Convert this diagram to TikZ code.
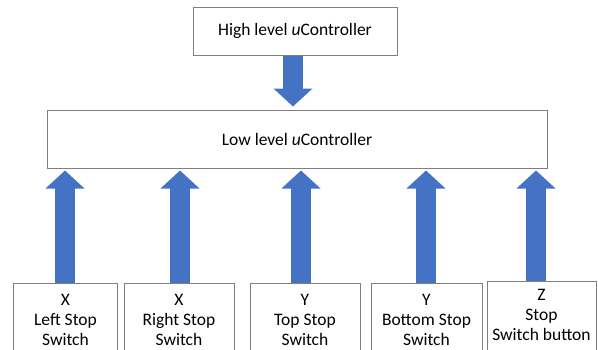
\documentclass[tikz,border=0pt]{standalone}
\usepackage{fontspec}
\setmainfont{Carlito}
\usetikzlibrary{arrows.meta}
\definecolor{arrowblue}{HTML}{4472C4}
\definecolor{boxline}{HTML}{7F7F7F}
\tikzset{
  box/.style={draw=boxline, line width=1pt, fill=white, inner sep=0pt, align=center,
    font=\fontsize{17.5}{20}\selectfont},
  label/.style={font=\fontsize{17.5}{20}\selectfont, align=center},
  blockarrow/.style={draw=arrowblue, line width=20pt,
    -{Triangle[length=18pt, width=38pt, fill=arrowblue]}},
}
\begin{document}
\begin{tikzpicture}[x=1pt,y=-1pt]
  \useasboundingbox (0,0) rectangle (598,349);
  \clip (0,0) rectangle (598,349);

  % controllers
  \node[box, minimum width=204pt, minimum height=48pt] (high) at (295,31) {High level \emph{u}Controller};
  \node[box, minimum width=500pt, minimum height=58pt] (low) at (297,139) {Low level \emph{u}Controller};

  % stop switches (bottom edges run past the page)
  \node[box, minimum width=104pt, minimum height=90pt, anchor=north] (sx1) at (65.5,283) {};
  \node[box, minimum width=110pt, minimum height=90pt, anchor=north] (sx2) at (179,283) {};
  \node[box, minimum width=110pt, minimum height=90pt, anchor=north] (sy1) at (305,283) {};
  \node[box, minimum width=111pt, minimum height=90pt, anchor=north] (sy2) at (426.5,283) {};
  \node[box, minimum width=109pt, minimum height=90pt, anchor=north] (sz) at (541.5,281) {};

  \node[label] (tx1) at (65.5,320) {X\\Left Stop\\Switch};
  \node[label] (tx2) at (179,320) {X\\Right Stop\\Switch};
  \node[label] (ty1) at (305,320) {Y\\Top Stop\\Switch};
  \node[label] (ty2) at (426.5,320) {Y\\Bottom Stop\\Switch};
  \node[label] (tz) at (541.5,315) {Z\\Stop\\Switch button};

  % signal arrows
  \draw[blockarrow] (high.south -| 293,0) -- ([yshift=3pt]low.north -| 293,0);
  \draw[blockarrow] (sx1.north -| 65,0) -- ([yshift=-2pt]low.south -| 65,0);
  \draw[blockarrow] (sx2.north -| 180,0) -- ([yshift=-2pt]low.south -| 180,0);
  \draw[blockarrow] (sy1.north -| 301,0) -- ([yshift=-2pt]low.south -| 301,0);
  \draw[blockarrow] (sy2.north -| 426,0) -- ([yshift=-2pt]low.south -| 426,0);
  \draw[blockarrow] (sz.north -| 536,0) -- ([yshift=-2pt]low.south -| 536,0);
\end{tikzpicture}
\end{document}
